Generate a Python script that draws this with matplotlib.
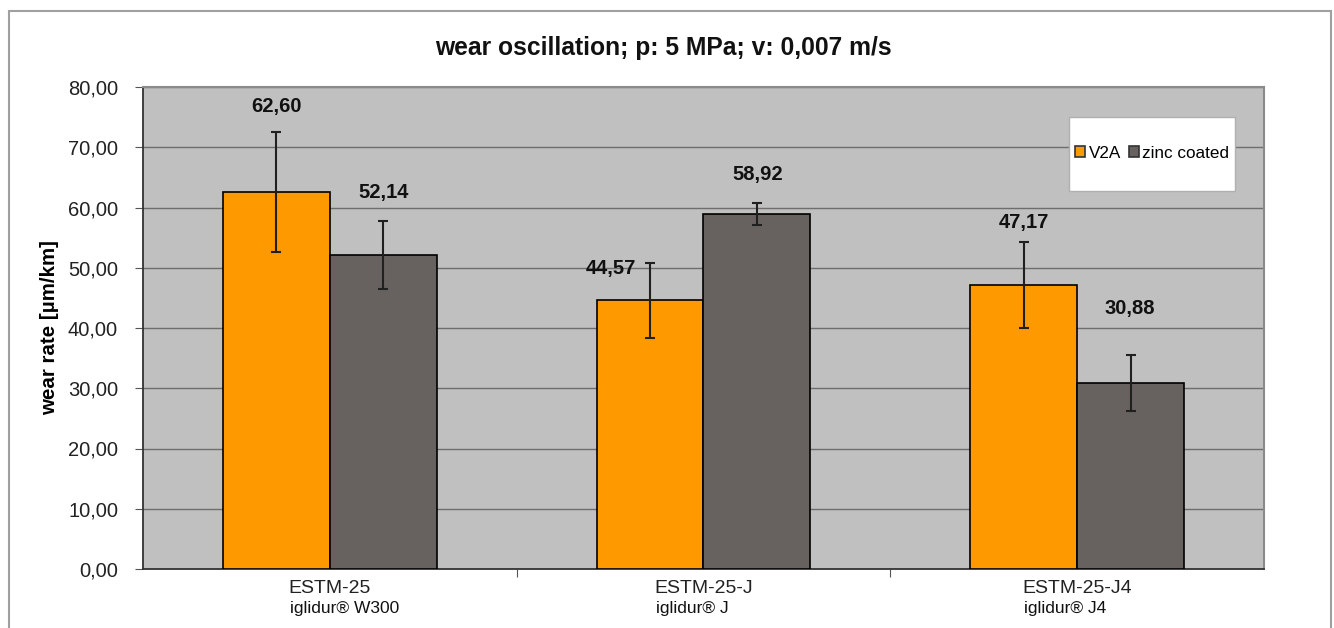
import numpy as np
import matplotlib.pyplot as plt
from matplotlib.patches import Rectangle

plt.rcParams['font.family'] = ['Liberation Sans', 'DejaVu Sans']

# Daten
categories = ['ESTM-25', 'ESTM-25-J', 'ESTM-25-J4']
materials = ['iglidur® W300', 'iglidur® J', 'iglidur® J4']
v2a = [62.60, 44.57, 47.17]
v2a_err = [10.0, 6.3, 7.1]
zinc = [52.14, 58.92, 30.88]
zinc_err = [5.6, 1.8, 4.7]
series_names = ['V2A', 'zinc coated']
yticks = np.arange(0, 81, 10)

# Stil
c_orange = '#FF9900'
c_grey = '#67625F'
bg = '#C0C0C0'
w = 0.286
# Versatz der Werte-Labels in Pixeln (dx, dy ueber Fehlerbalken)
lab_off_v2a = [(0, 25), (-39, -6), (0, 20)]
lab_off_zinc = [(0, 29), (1, 29), (-1, 46)]

fig = plt.figure(figsize=(13.34, 6.28), dpi=100)
fig.patches.append(Rectangle((9 / 1334, -0.1), 1322 / 1334, 1.1 - 11 / 628,
                             transform=fig.transFigure, fill=False,
                             edgecolor='#A0A0A0', linewidth=1.5))
ax = fig.add_axes([143 / 1334, 1 - 569 / 628, 1121 / 1334, 482 / 628])
ax.set_facecolor(bg)

x = np.arange(len(categories))
eb = dict(ecolor='#202020', elinewidth=1.5, capsize=3.5, capthick=1.5)
b1 = ax.bar(x - w / 2, v2a, w, yerr=v2a_err, color=c_orange, edgecolor='black',
            linewidth=1.2, error_kw=eb, zorder=3, label=series_names[0])
b2 = ax.bar(x + w / 2, zinc, w, yerr=zinc_err, color=c_grey, edgecolor='black',
            linewidth=1.2, error_kw=eb, zorder=3, label=series_names[1])

def fmt(v):
    return f'{v:.2f}'.replace('.', ',')

for xs, vals, errs, offs in [(x - w / 2, v2a, v2a_err, lab_off_v2a),
                             (x + w / 2, zinc, zinc_err, lab_off_zinc)]:
    for xi, v, e, (dx, dy) in zip(xs, vals, errs, offs):
        ax.annotate(fmt(v), (xi, v + e), xytext=(dx * 0.72, dy * 0.72),
                    textcoords='offset points', ha='center', va='center',
                    fontsize=14.5, fontweight='bold', color='#111111', zorder=5)

ax.set_ylim(0, 80)
ax.set_xlim(-0.5, 2.5)
ax.set_yticks(yticks)
ax.set_yticklabels([fmt(t) for t in yticks], fontsize=14.5, color='#222222')
ax.yaxis.grid(True, color='#6E6E6E', linewidth=1.0, zorder=1)
ax.set_axisbelow(True)

# Kategorie-Ticks an den Grenzen, Labels in der Mitte
ax.set_xticks([0.5, 1.5])
ax.set_xticklabels([])
ax.tick_params(axis='x', which='major', length=6, color='#555555')
ax.set_xticks(x, minor=True)
ax.set_xticklabels(categories, minor=True, fontsize=14, color='#222222')
ax.tick_params(axis='x', which='minor', length=0, pad=8)
ax.tick_params(axis='y', length=6, color='#555555', pad=12)

for sp in ['left', 'bottom']:
    ax.spines[sp].set_color('#333333')
    ax.spines[sp].set_linewidth(1.3)
for sp in ['top', 'right']:
    ax.spines[sp].set_color('#8A8A8A')
    ax.spines[sp].set_linewidth(1.5)

ax.set_ylabel('wear rate [µm/km]', fontsize=14.8, fontweight='bold')
ax.yaxis.set_label_coords(-0.075, 0.5)

fig.text(663 / 1334, 1 - 48 / 628, 'wear oscillation; p: 5 MPa; v: 0,007 m/s',
         ha='center', va='center', fontsize=17.7, fontweight='bold', color='#111111')

fig.canvas.draw()
for lbl, sub in zip(ax.get_xticklabels(minor=True), materials):
    ax.annotate(sub, xy=(0, 0), xycoords=lbl, xytext=(1, -3),
                textcoords='offset points', ha='left', va='top',
                fontsize=12.5, color='#111111', annotation_clip=False)

# Legendenkasten
box = Rectangle((1069 / 1334, 1 - 191 / 628), 166 / 1334, 74 / 628,
                transform=fig.transFigure, facecolor='white',
                edgecolor='#B0B0B0', linewidth=1.0, zorder=4)
fig.patches.append(box)
leg = fig.legend(handles=[b1, b2], loc='center left',
                 bbox_to_anchor=(1075 / 1334, 1 - 153 / 628),
                 ncol=2, fontsize=12.3, frameon=False,
                 handlelength=0.6, handleheight=0.6, handletextpad=0.2,
                 columnspacing=0.45, borderpad=0, borderaxespad=0)
leg.set_zorder(6)
for h in leg.legend_handles:
    h.set_edgecolor('#333333')
    h.set_linewidth(1.2)

fig.savefig('out.png', dpi=100)
